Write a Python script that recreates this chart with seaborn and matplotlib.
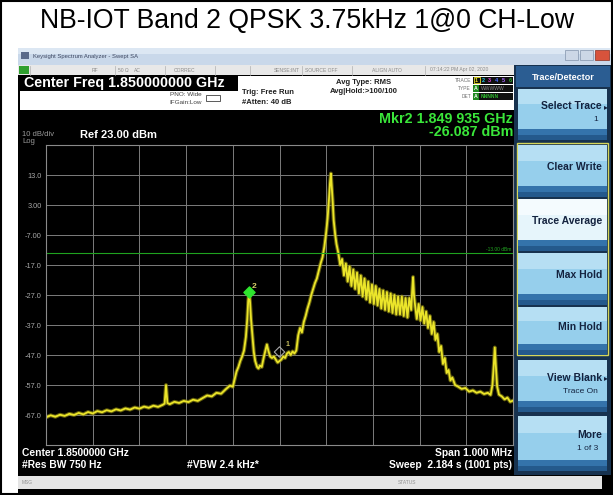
import matplotlib
matplotlib.use("Agg")
import matplotlib.pyplot as plt
from matplotlib.patches import Rectangle
import pandas as pd
import seaborn as sns

plt.rcParams["font.family"] = ["Liberation Sans", "DejaVu Sans"]

# trace: offset from the 1.85 GHz centre (kHz) and level (dBm)
offset_khz = [
    -500, -490, -480, -470, -460, -450, -440, -430, -420, -410,
    -400, -390, -380, -370, -360, -350, -340, -330, -320, -310,
    -300, -290, -280, -270, -260, -250, -246, -243, -240, -235,
    -225, -215, -205, -195, -185, -175, -165, -155, -145, -135,
    -125, -115, -106, -100, -96, -92, -88, -84, -80, -76,
    -72, -69, -67, -65, -63, -61, -58, -55, -52, -48,
    -45, -42, -38, -34, -30, -27, -24, -20, -16, -12,
    -8, -4, 0, 4, 8, 12, 16, 20, 24, 28,
    32, 36, 40, 44, 48, 52, 56, 60, 64, 68,
    72, 76, 80, 84, 88, 92, 96, 100, 103, 106,
    108, 110, 112, 114, 116, 119, 122,
    126, 130, 134, 138, 142, 146, 150, 154, 158, 162,
    166, 170, 174, 178, 182, 186, 190, 194, 198, 202,
    206, 210, 214, 218, 222, 226, 230, 234, 238, 242,
    246, 250, 254, 258, 262, 266, 270, 274, 278, 282,
    284, 286, 288, 290, 294, 298, 302, 306, 310, 314,
    318, 322, 326, 330, 334, 338, 342, 346, 350, 354,
    358, 362, 366, 370, 376, 382, 390, 398, 406, 414,
    422, 430, 438, 446, 452, 456, 459, 461, 463, 466,
    470, 476, 482, 488, 494, 500,
]
level_dbm = [
    -67.8, -67.1, -67.6, -66.9, -67.3, -66.6, -67.0, -66.3, -66.8, -66.0,
    -66.5, -65.7, -66.1, -65.4, -65.8, -65.1, -65.5, -64.8, -65.2, -64.5,
    -64.9, -64.2, -64.6, -63.9, -64.3, -63.6, -63.2, -57.0, -63.0, -63.4,
    -62.6, -63.0, -62.3, -62.7, -61.9, -62.3, -61.4, -60.5, -60.8, -59.6,
    -59.9, -58.4, -57.2, -57.6, -55.0, -52.5, -51.0, -49.0, -47.5, -45.5,
    -41.0, -35.0, -29.0, -26.1, -29.5, -35.0, -40.5, -46.0, -49.0, -51.0,
    -51.5, -50.5, -51.0, -48.0, -45.5, -43.5, -45.5, -47.5, -48.0, -47.5,
    -48.5, -49.5, -49.0, -48.5, -47.5, -48.0, -46.5, -46.0, -47.0, -45.8,
    -46.5, -45.5, -40.5, -38.0, -39.5, -36.0, -34.0, -31.5, -29.5, -27.0,
    -25.0, -23.0, -21.5, -19.0, -16.5, -14.5, -11.0, -6.0, -1.5, 5.0,
    10.0, 13.5, 9.0, 4.0, -2.0, -6.5, -10.0,
    -13.0, -17.0, -15.0, -20.5, -16.5, -22.5, -17.5, -24.0, -18.5, -25.0,
    -19.5, -26.5, -20.5, -27.5, -21.5, -28.5, -22.5, -29.5, -23.5, -30.0,
    -24.0, -30.5, -25.0, -31.5, -25.5, -32.0, -26.0, -32.5, -26.5, -33.0,
    -27.0, -33.5, -27.5, -33.5, -27.5, -34.0, -28.0, -34.5, -28.0, -32.0,
    -26.0, -21.0, -27.0, -30.0, -35.0, -30.0, -35.5, -31.0, -36.5, -32.5,
    -38.0, -34.0, -40.0, -36.0, -42.0, -40.0, -46.0, -44.0, -50.0, -48.0,
    -53.0, -52.0, -55.5, -54.5, -57.0, -57.5, -58.3, -58.0, -59.2, -58.8,
    -59.6, -59.2, -60.0, -59.6, -60.3, -57.0, -50.0, -44.5, -50.0, -57.5,
    -60.2, -60.8, -61.8, -61.2, -62.6, -62.2,
]

marker_khz = [0, -65]
marker_dbm = [-46.0, -26.087]

y_grid = [23, 13, 3, -7, -17, -27, -37, -47, -57, -67, -77]
y_labels = ["", "13.0", "3.00", "-7.00", "-17.0", "-27.0", "-37.0", "-47.0", "-57.0", "-67.0", ""]
x_grid = [-500, -400, -300, -200, -100, 0, 100, 200, 300, 400, 500]

softkeys = [
    ("Select Trace", "1", True, False),
    ("Clear Write", "", False, False),
    ("Trace Average", "", False, True),
    ("Max Hold", "", False, False),
    ("Min Hold", "", False, False),
    ("View Blank", "Trace On", True, False),
    ("More", "1 of 3", False, False),
]
key_rows = [(89, 51), (145, 52), (199, 52), (253, 52), (307, 48), (360, 52), (416, 55)]

df = pd.DataFrame({"offset_khz": offset_khz, "level_dbm": level_dbm})

fig = plt.figure(figsize=(6.13, 4.95), dpi=100)
fig.patch.set_facecolor("white")
bg = fig.add_axes([0, 0, 1, 1])
bg.set_xlim(0, 613)
bg.set_ylim(495, 0)
bg.axis("off")


def box(x, y, w, h, fc, ec="none", lw=0.0):
    bg.add_patch(Rectangle((x, y), w, h, fc=fc, ec=ec, lw=lw))


def txt(x, y, s, size, color, ha="left", bold=False):
    bg.text(x, y, s, fontsize=size, color=color, ha=ha, va="center",
            fontweight="bold" if bold else "normal")


# outer frame and caption
box(1, 1, 610.5, 492.5, "white", ec="black", lw=1.5)
txt(307, 21, "NB-IOT Band 2 QPSK 3.75kHz 1@0 CH-Low", 19.2, "black", ha="center")

# analyzer screen
box(18, 48, 593, 446, "black")
box(18, 48, 593, 17, "#c9d8ea")
box(18, 48, 593, 6, "#dce7f3")
box(21, 52, 8, 7, "#5a6a8a")
txt(33, 56.5, "Keysight Spectrum Analyzer - Swept SA", 4.2, "#3c4660")
box(565, 50, 13, 10, "#ccd7e6", ec="#8293ab", lw=0.5)
box(580, 50, 13, 10, "#ccd7e6", ec="#8293ab", lw=0.5)
box(595, 50, 14, 10, "#d8533c", ec="#8a3020", lw=0.5)

box(18, 65, 496, 10, "#e8e8e8")
box(19, 66, 10, 8, "#2f9f2f")
for sx in [30, 115, 165, 215, 250, 302, 352, 425]:
    bg.plot([sx, sx], [65.5, 74.5], color="#b0b0b0", lw=0.5)
for sx, s in [(92, "RF"), (118, "50 \u03a9"), (134, "AC"), (174, "CORREC"),
              (274, "SENSE:INT"), (305, "SOURCE OFF"), (372, "ALIGN AUTO"),
              (430, "07:14:22 PM Apr 02, 2020")]:
    txt(sx, 70, s, 3.6, "#8a8a8a")

# header panel
box(20, 76, 494, 34, "white")
box(20, 76, 218, 15, "black")
txt(24, 83.5, "Center Freq 1.850000000 GHz", 10.3, "white", bold=True)
txt(202, 95, "PNO: Wide", 4.6, "#404040", ha="right")
txt(202, 103, "IFGain:Low", 4.6, "#404040", ha="right")
box(206, 94.5, 14, 6, "white", ec="#404040", lw=0.6)
txt(242, 93, "Trig: Free Run", 5.5, "#202020", bold=True)
txt(242, 103, "#Atten: 40 dB", 5.5, "#202020", bold=True)
txt(336, 82, "Avg Type: RMS", 5.5, "#202020", bold=True)
txt(330, 91.5, "Avg|Hold:>100/100", 5.5, "#202020", bold=True)
txt(471, 80, "TRACE", 3.5, "#707070", ha="right")
txt(471, 88.5, "TYPE", 3.5, "#707070", ha="right")
txt(471, 96.5, "DET", 3.5, "#707070", ha="right")
box(473, 76.5, 40, 7, "#101010")
box(473, 85, 40, 7, "#101010")
box(473, 93, 40, 7, "#101010")
box(473.5, 77, 6, 6, "#101010", ec="#e8e020", lw=0.6)
for i, c in enumerate(["#e8e020", "#20c8e8", "#e040e0", "#4a6cff", "#a868ff", "#30b030"]):
    txt(476.5 + 6.7 * i, 80, str(i + 1), 4, c, ha="center", bold=True)
box(473, 85, 6, 7, "#208a20")
box(473, 93, 6, 7, "#208a20")
txt(476, 88.5, "A", 3.8, "white", ha="center", bold=True)
txt(476, 96.5, "A", 3.8, "white", ha="center", bold=True)
txt(481, 88.5, "WWWWW", 3.6, "#8a8a8a")
txt(481, 96.5, "NNNNN", 3.6, "#30c030", bold=True)

# marker readout and reference
txt(513, 119, "Mkr2 1.849 935 GHz", 10.3, "#3ae63a", ha="right", bold=True)
txt(513, 132, "-26.087 dBm", 10.3, "#3ae63a", ha="right", bold=True)
txt(22, 134.5, "10 dB/div", 5.5, "#9a9a9a")
txt(22, 141.5, "Log", 5.5, "#9a9a9a")
txt(80, 135, "Ref 23.00 dBm", 8, "white", bold=True)

# footer
txt(22, 453, "Center 1.8500000 GHz", 7.4, "white", bold=True)
txt(22, 465, "#Res BW 750 Hz", 7.4, "white", bold=True)
txt(187, 465, "#VBW 2.4 kHz*", 7.4, "white", bold=True)
txt(512, 453, "Span 1.000 MHz", 7.4, "white", ha="right", bold=True)
txt(512, 465, "Sweep  2.184 s (1001 pts)", 7.4, "white", ha="right", bold=True)
box(18, 476, 584, 13, "#e4e4e4")
txt(22, 482.5, "MSG", 3.5, "#909090")
txt(398, 482.5, "STATUS", 3.5, "#909090")

# softkey column
box(514, 65, 97, 410, "#17324f")
box(516, 66, 94, 21, "#2b5d92")
txt(563, 77, "Trace/Detector", 6.5, "white", ha="center", bold=True)
box(516.5, 143, 91, 212, "none", ec="#d6d65a", lw=1.0)
for (label, sub, arrow, selected), (ky, kh) in zip(softkeys, key_rows):
    box(518, ky, 89, kh, "#e6f5fb" if selected else "#96cfec")
    box(518, ky, 89, kh * 0.3, "#f4fbfe" if selected else "#b6dff3")
    box(518, ky + kh - 11, 89, 11, "#3473ab")
    box(518, ky + kh - 5, 89, 5, "#24598c")
    if sub:
        txt(602, ky + kh * 0.34, label, 7.5, "#14233f", ha="right", bold=True)
        txt(598, ky + kh * 0.6, sub, 6, "#14233f", ha="right")
    else:
        txt(602, ky + kh * 0.42, label, 7.5, "#14233f", ha="right", bold=True)
    if arrow:
        txt(606, ky + kh * 0.36, "\u25b8", 5.5, "#14233f", ha="center")

# graticule and trace
ax = fig.add_axes([46 / 613, 50 / 495, 467 / 613, 300 / 495])
ax.set_facecolor("black")
sns.lineplot(data=df, x="offset_khz", y="level_dbm", color="#8c8612",
             linewidth=2.8, alpha=0.7, ax=ax)
sns.lineplot(data=df, x="offset_khz", y="level_dbm", color="#ebe52a",
             linewidth=1.3, ax=ax)
ax.axhline(-13, color="#1fa31f", lw=0.8)
ax.text(497, -12.6, "-13.00 dBm", fontsize=3.5, color="#22aa22", ha="right", va="bottom")
ax.scatter(marker_khz[1:], marker_dbm[1:], marker="D", s=32, color="#2ee62e", zorder=5)
ax.scatter(marker_khz[:1], marker_dbm[:1], marker="D", s=28, facecolor="none",
           edgecolor="#a8a8a8", linewidth=0.8, zorder=5)
ax.text(marker_khz[1] + 6, marker_dbm[1] + 2, "2", fontsize=6, color="#d8cf6a",
        fontweight="bold", va="center")
ax.text(marker_khz[0] + 14, marker_dbm[0] + 2.5, "1", fontsize=5, color="#c8c060",
        fontweight="bold", va="center")

ax.set_xlim(-500, 500)
ax.set_ylim(-77, 23)
ax.set_xticks(x_grid)
ax.set_xticklabels([])
ax.set_yticks(y_grid)
ax.set_yticklabels(y_labels)
ax.tick_params(length=0, pad=3, labelsize=5.3, labelcolor="#a8a8a8")
ax.grid(True, color="#7c7c7c", lw=0.7)
ax.set_axisbelow(True)
for sp in ax.spines.values():
    sp.set_color("#8a8a8a")
    sp.set_linewidth(0.8)
ax.set_xlabel("")
ax.set_ylabel("")

fig.savefig("out.png", dpi=100, facecolor="white")
